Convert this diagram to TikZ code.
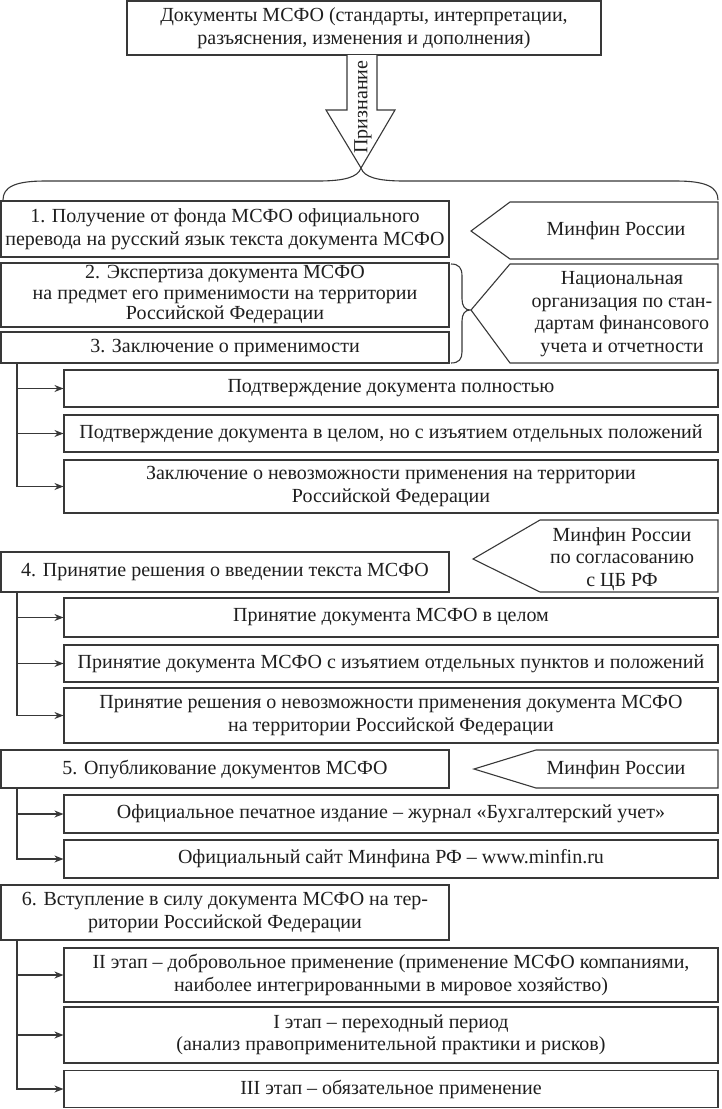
\documentclass[tikz,border=0pt]{standalone}
\usepackage{fontspec}
\setmainfont{Liberation Serif}
\usetikzlibrary{arrows.meta}
\newcommand\dsz{\fontsize{20}{22.5}\selectfont}
\newcommand\dszt{\fontsize{20}{20.5}\selectfont}
\definecolor{lc}{gray}{0.22}
\definecolor{tc}{gray}{0.12}
\begin{document}
\begin{tikzpicture}[x=1pt,y=-1pt,
 box/.style={draw=lc,line width=1.1pt,inner sep=0pt,align=center,font=\dsz,text=tc},
 txt/.style={inner sep=0pt,align=center,font=\dsz,text=tc},
 conn/.style={draw=lc,line width=1.1pt,-{Stealth[length=9pt,width=7pt]}},
 shp/.style={draw=lc,line width=1.1pt}]
\useasboundingbox[fill=white] (0,0) rectangle (721,1109);

% top box
\node[box,minimum width=474,minimum height=54] (top) at (364,28)
 {Документы МСФО (стандарты, интерпретации,\\разъяснения, изменения и дополнения)};

% brace
\coordinate (bt) at (361,168);
\draw[shp] (3,200) .. controls (3,187) and (15,181) .. (45,181) -- (318,181)
  .. controls (345,181) and (358,177) .. (bt)
  .. controls (364,177) and (377,181) .. (404,181) -- (676,181)
  .. controls (706,181) and (718,187) .. (718,200);

% hollow arrow
\draw[shp,fill=white] (347,55) -- (347,110) -- (326,110) -- (bt) -- (395,110) -- (377,110) -- (377,55);
\node[txt,rotate=90] (priz) at (363,107) {Признание};

% step boxes
\node[box,minimum width=448,minimum height=56] (b1) at (225,229)
 {1. Получение от фонда МСФО официального\\перевода на русский язык текста документа МСФО};
\node[box,font=\dszt,minimum width=448,minimum height=64] (b2) at (225,295)
 {2. Экспертиза документа МСФО\\на предмет его применимости на территории\\Российской Федерации};
\node[box,minimum width=448,minimum height=31] (b3) at (225,347.5)
 {3. Заключение о применимости};

% pentagon 1
\draw[shp] (471,231) -- (510,202) -- (718,202) -- (718,259) -- (510,259) -- cycle;
\node[txt] (p1) at (616,231) {Минфин России};

% bracket
\draw[shp] (451,264) .. controls (459,264) and (462,268) .. (462,276) -- (462,299)
  .. controls (462,306) and (465,310) .. (470,310)
  .. controls (465,310) and (462,314) .. (462,321) -- (462,352)
  .. controls (462,359) and (459,363) .. (451,363);

% pentagon 2
\draw[shp] (471,310) -- (510,264) -- (718,264) -- (718,363) -- (510,363) -- cycle;
\node[txt] (p2) at (622,314) {Национальная\\организация по стан-\\дартам финансового\\учета и отчетности};

% sub boxes of 3
\node[box,minimum width=654,minimum height=37] (sA) at (391,388.5) {Подтверждение документа полностью};
\node[box,minimum width=654,minimum height=37] (sB) at (391,433.5) {Подтверждение документа в целом, но с изъятием отдельных положений};
\node[box,minimum width=654,minimum height=53] (sC) at (391,486.5) {Заключение о невозможности применения на территории\\Российской Федерации};
\draw[conn] ([xshift=16.5]b3.south west) |- (sA.west);
\draw[conn] ([xshift=16.5]b3.south west) |- (sB.west);
\draw[conn] ([xshift=16.5]b3.south west) |- (sC.west);

% pentagon 3
\draw[shp] (473,559) -- (540,520) -- (718,520) -- (718,592) -- (540,592) -- cycle;
\node[txt] (p3) at (622,559) {Минфин России\\по согласованию\\с ЦБ РФ};

\node[box,minimum width=448,minimum height=40] (b4) at (225,572) {4. Принятие решения о введении текста МСФО};
\node[box,minimum width=654,minimum height=39] (sD) at (391,617.5) {Принятие документа МСФО в целом};
\node[box,minimum width=654,minimum height=37] (sE) at (391,663.5) {Принятие документа МСФО с изъятием отдельных пунктов и положений};
\node[box,minimum width=654,minimum height=55] (sF) at (391,715.5) {Принятие решения о невозможности применения документа МСФО\\на территории Российской Федерации};
\draw[conn] ([xshift=16.5]b4.south west) |- (sD.west);
\draw[conn] ([xshift=16.5]b4.south west) |- (sE.west);
\draw[conn] ([xshift=16.5]b4.south west) |- (sF.west);

% step 5
\node[box,minimum width=448,minimum height=38] (b5) at (225,769) {5. Опубликование документов МСФО};
\draw[shp] (474,769) -- (536,750) -- (718,750) -- (718,788) -- (536,788) -- cycle;
\node[txt] (p4) at (616,770) {Минфин России};
\node[box,minimum width=654,minimum height=38] (sG) at (391,814) {Официальное печатное издание -- журнал «Бухгалтерский учет»};
\node[box,minimum width=654,minimum height=38] (sH) at (391,859) {Официальный сайт Минфина РФ -- www.minfin.ru};
\draw[conn] ([xshift=16.5]b5.south west) |- (sG.west);
\draw[conn] ([xshift=16.5]b5.south west) |- (sH.west);

% step 6
\node[box,minimum width=448,minimum height=55] (b6) at (225,912.5) {6. Вступление в силу документа МСФО на тер-\\ритории Российской Федерации};
\node[box,minimum width=654,minimum height=54] (sI) at (391,975) {II этап -- добровольное применение (применение МСФО компаниями,\\наиболее интегрированными в мировое хозяйство)};
\node[box,minimum width=654,minimum height=56] (sJ) at (391,1035) {I этап -- переходный период\\(анализ правоприменительной практики и рисков)};
\node[box,minimum width=654,minimum height=37] (sK) at (391,1089) {III этап -- обязательное применение};
\draw[conn] ([xshift=16.5]b6.south west) |- (sI.west);
\draw[conn] ([xshift=16.5]b6.south west) |- (sJ.west);
\draw[conn] ([xshift=16.5]b6.south west) |- (sK.west);
\end{tikzpicture}
\end{document}
